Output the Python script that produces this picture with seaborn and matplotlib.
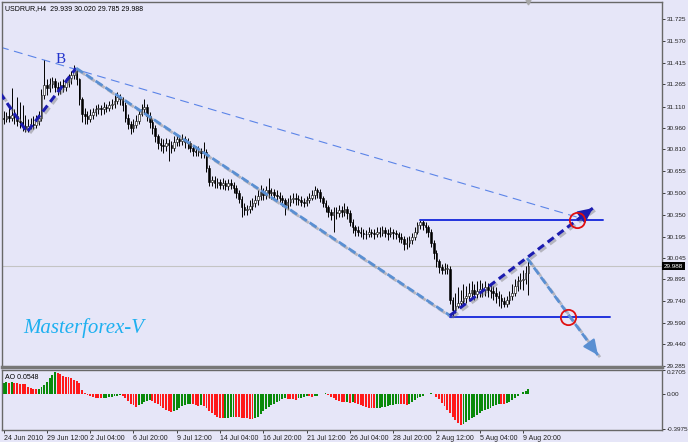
import matplotlib
matplotlib.use("Agg")
import numpy as np
import pandas as pd
import matplotlib.pyplot as plt
import matplotlib.patheffects as pe
import seaborn as sns

# ---- data ----
symbol = "USDRUR,H4"
header_values = [29.939, 30.020, 29.785, 29.988]
first_open = 31.03

closes = [
    31.02, 31.04, 31.03, 31.05, 31.04, 31.01, 31.00, 30.97, 30.95, 30.97,
    30.99, 30.98, 31.01, 31.03, 31.19, 31.26, 31.24, 31.27, 31.29, 31.25,
    31.23, 31.26, 31.25, 31.28, 31.31, 31.33, 31.36, 31.30, 31.16, 31.06,
    31.04, 31.02, 31.05, 31.07, 31.09, 31.10, 31.09, 31.11, 31.10, 31.12,
    31.13, 31.15, 31.18, 31.16, 31.12, 31.03, 30.99, 30.96, 30.98, 31.01,
    31.06, 31.09, 31.11, 31.04, 31.00, 30.96, 30.90, 30.85, 30.84, 30.83,
    30.85, 30.84, 30.82, 30.86, 30.88, 30.87, 30.88, 30.86, 30.85, 30.82,
    30.80, 30.79, 30.80, 30.78, 30.79, 30.68, 30.58, 30.59, 30.57, 30.58,
    30.56, 30.57, 30.55, 30.57, 30.56, 30.54, 30.50, 30.46, 30.40, 30.38,
    30.39, 30.41, 30.43, 30.45, 30.48, 30.51, 30.49, 30.52, 30.50, 30.51,
    30.49, 30.48, 30.47, 30.45, 30.42, 30.44, 30.46, 30.47, 30.46, 30.45,
    30.44, 30.43, 30.45, 30.47, 30.49, 30.52, 30.51, 30.47, 30.43, 30.40,
    30.37, 30.35, 30.37, 30.36, 30.38, 30.37, 30.39, 30.36, 30.30, 30.26,
    30.24, 30.23, 30.22, 30.21, 30.21, 30.23, 30.22, 30.21, 30.23, 30.22,
    30.24, 30.22, 30.21, 30.23, 30.22, 30.21, 30.19, 30.18, 30.14, 30.15,
    30.17, 30.19, 30.23, 30.28, 30.30, 30.28, 30.26, 30.23, 30.15, 30.08,
    30.02, 29.98, 29.96, 29.97, 29.97, 29.75, 29.68, 29.71, 29.73, 29.74,
    29.76, 29.78, 29.80, 29.82, 29.79, 29.81, 29.83, 29.82, 29.84, 29.82,
    29.81, 29.80, 29.78, 29.76, 29.74, 29.72, 29.75, 29.78, 29.80, 29.85,
    29.88, 29.89, 29.90, 29.939, 29.988,
]
highs = [
    31.08, 31.07, 31.10, 31.24, 31.09, 31.18, 31.14, 31.12, 31.05, 31.02,
    31.03, 31.04, 31.05, 31.08, 31.23, 31.44, 31.30, 31.31, 31.32, 31.31,
    31.28, 31.29, 31.30, 31.31, 31.34, 31.36, 31.40, 31.38, 31.31, 31.18,
    31.10, 31.08, 31.09, 31.10, 31.12, 31.13, 31.12, 31.14, 31.13, 31.15,
    31.16, 31.19, 31.21, 31.20, 31.18, 31.14, 31.06, 31.01, 31.02, 31.05,
    31.09, 31.13, 31.16, 31.13, 31.07, 31.02, 30.98, 30.92, 30.89, 30.88,
    30.89, 30.88, 30.87, 30.90, 30.92, 30.91, 30.92, 30.90, 30.89, 30.87,
    30.84, 30.83, 30.83, 30.82, 30.86, 30.81, 30.70, 30.62, 30.62, 30.61,
    30.60, 30.61, 30.59, 30.60, 30.60, 30.58, 30.56, 30.52, 30.48, 30.43,
    30.42, 30.45, 30.47, 30.49, 30.52, 30.56, 30.54, 30.55, 30.61, 30.54,
    30.53, 30.52, 30.51, 30.49, 30.47, 30.47, 30.49, 30.50, 30.50, 30.49,
    30.48, 30.47, 30.48, 30.50, 30.52, 30.55, 30.54, 30.53, 30.48, 30.45,
    30.42, 30.39, 30.40, 30.40, 30.42, 30.41, 30.43, 30.41, 30.38, 30.32,
    30.28, 30.27, 30.26, 30.25, 30.24, 30.26, 30.25, 30.25, 30.26, 30.26,
    30.27, 30.26, 30.25, 30.26, 30.25, 30.24, 30.23, 30.22, 30.20, 30.19,
    30.20, 30.22, 30.26, 30.30, 30.32, 30.31, 30.30, 30.28, 30.25, 30.17,
    30.10, 30.04, 30.00, 30.01, 30.00, 29.99, 29.77, 29.80, 29.84, 29.82,
    29.86, 29.85, 29.87, 29.88, 29.86, 29.88, 29.89, 29.87, 29.88, 29.87,
    29.86, 29.85, 29.84, 29.81, 29.79, 29.77, 29.78, 29.81, 29.86, 29.90,
    29.92, 29.94, 29.96, 29.99, 30.02,
]
lows = [
    30.99, 31.00, 31.00, 31.01, 30.99, 30.97, 30.96, 30.94, 30.93, 30.93,
    30.95, 30.95, 30.96, 30.98, 31.01, 31.16, 31.19, 31.21, 31.24, 31.21,
    31.19, 31.20, 31.21, 31.22, 31.25, 31.27, 31.30, 31.26, 31.12, 31.00,
    30.99, 30.99, 31.00, 31.02, 31.04, 31.06, 31.05, 31.06, 31.07, 31.08,
    31.09, 31.10, 31.13, 31.12, 31.08, 31.00, 30.95, 30.92, 30.93, 30.96,
    30.99, 31.04, 31.06, 31.01, 30.96, 30.92, 30.86, 30.81, 30.80, 30.78,
    30.80, 30.73, 30.78, 30.80, 30.83, 30.83, 30.84, 30.82, 30.81, 30.79,
    30.76, 30.76, 30.76, 30.75, 30.75, 30.65, 30.55, 30.55, 30.54, 30.54,
    30.53, 30.53, 30.52, 30.52, 30.53, 30.50, 30.47, 30.43, 30.33, 30.35,
    30.35, 30.36, 30.38, 30.40, 30.42, 30.45, 30.45, 30.46, 30.47, 30.46,
    30.45, 30.45, 30.44, 30.41, 30.35, 30.39, 30.41, 30.43, 30.42, 30.42,
    30.41, 30.40, 30.41, 30.43, 30.45, 30.46, 30.47, 30.44, 30.40, 30.37,
    30.33, 30.31, 30.23, 30.32, 30.33, 30.33, 30.34, 30.32, 30.27, 30.22,
    30.20, 30.20, 30.19, 30.18, 30.18, 30.19, 30.19, 30.18, 30.19, 30.19,
    30.20, 30.19, 30.17, 30.19, 30.18, 30.18, 30.16, 30.15, 30.10, 30.11,
    30.12, 30.14, 30.17, 30.21, 30.25, 30.24, 30.22, 30.19, 30.12, 30.04,
    29.98, 29.94, 29.93, 29.93, 29.93, 29.72, 29.64, 29.66, 29.69, 29.70,
    29.71, 29.73, 29.74, 29.76, 29.75, 29.76, 29.77, 29.77, 29.78, 29.77,
    29.76, 29.75, 29.73, 29.71, 29.69, 29.70, 29.70, 29.72, 29.75, 29.78,
    29.81, 29.83, 29.82, 29.86, 29.785,
]
ao_values = [
    0.13, 0.14, 0.13, 0.14, 0.13,
    0.13, 0.12, 0.12, 0.11,
    0.08, 0.065, 0.06, 0.055, 0.06,
    0.08, 0.10,
    0.14, 0.18, 0.22, 0.25,
    0.245, 0.23, 0.21, 0.20, 0.19, 0.18, 0.16, 0.15, 0.13,
    0.05, 0.01, -0.01,
    -0.02, -0.03, -0.04, -0.045, -0.05,
    -0.045, -0.04, -0.035, -0.03, -0.025, -0.02, -0.01,
    -0.02, -0.05, -0.08, -0.11, -0.13, -0.145,
    -0.13, -0.11, -0.09, -0.075, -0.07,
    -0.08, -0.10, -0.12, -0.14, -0.16, -0.18, -0.20, -0.21,
    -0.20, -0.18, -0.16, -0.14, -0.13, -0.12, -0.11,
    -0.12, -0.13, -0.135, -0.13, -0.14,
    -0.16, -0.19, -0.22, -0.24, -0.26, -0.275, -0.28,
    -0.275, -0.27, -0.265, -0.26, -0.262,
    -0.265, -0.27, -0.275, -0.28, -0.285, -0.29,
    -0.28, -0.26, -0.23, -0.20, -0.17, -0.15, -0.13, -0.11, -0.09, -0.075, -0.06, -0.05,
    -0.055, -0.06, -0.062, -0.065,
    -0.05, -0.04, -0.03, -0.02,
    -0.025, -0.03, -0.025, -0.02,
    -0.005, 0.005, 0.015,
    -0.01, -0.03, -0.05, -0.07, -0.085, -0.09, -0.095,
    -0.09, -0.10, -0.095, -0.10,
    -0.12, -0.13, -0.14, -0.15, -0.155, -0.16, -0.165,
    -0.16, -0.155, -0.15, -0.145, -0.14, -0.13, -0.125, -0.12, -0.11,
    -0.115, -0.12, -0.125,
    -0.11, -0.09, -0.07, -0.05, -0.035, -0.02, -0.005,
    0.005, 0.01,
    -0.005, -0.03, -0.06, -0.10, -0.14, -0.18, -0.22, -0.26, -0.30, -0.33, -0.355,
    -0.345, -0.32, -0.30, -0.28, -0.26, -0.24, -0.22, -0.20, -0.185, -0.17, -0.155, -0.14, -0.125, -0.11,
    -0.115, -0.12,
    -0.10, -0.09, -0.07, -0.045,
    -0.02, 0.0, 0.02, 0.035, 0.0548,
]

date_ticks = [0, 16, 32, 48, 64, 80, 96, 112, 128, 144, 160, 176, 192]
date_labels = ["24 Jun 2010", "29 Jun 12:00", "2 Jul 04:00", "6 Jul 20:00",
               "9 Jul 12:00", "14 Jul 04:00", "16 Jul 20:00", "21 Jul 12:00",
               "26 Jul 04:00", "28 Jul 20:00", "2 Aug 12:00", "5 Aug 04:00",
               "9 Aug 20:00"]
price_ticks = [31.725, 31.570, 31.415, 31.265, 31.110, 30.960, 30.810, 30.655,
               30.500, 30.350, 30.195, 30.045, 29.895, 29.740, 29.590, 29.440,
               29.285]
ao_ticks = [0.2705, 0.0, -0.3975]
last_price = 29.988

# analysis drawings (bar index, price)
zigzag_k = [-1.3, 8.65, 26.8]
zigzag_p = [31.205, 30.93, 31.38]
trend_k = [26.8, 165.0]
trend_p = [31.38, 29.64]
up_arrow_k = [165.0, 217.9]
up_arrow_p = [29.64, 30.396]
down_arrow_k = [193.5, 219.7]
down_arrow_p = [30.044, 29.362]
channel_k = [-1.3, 213.1]
channel_p = [31.528, 30.326]
resist_k = [154.0, 221.6]
resist_p = 30.312
support_k = [165.0, 224.2]
support_p = 29.63
target_k = [212.0, 208.6]
target_p = [30.312, 29.63]
b_label = (21.2, 31.44)

BG = "#e6e6f8"
NAVY = "#1c1cb0"
STEEL = "#5a8fd2"

sns.set_theme(style="white")
plt.rcParams["font.family"] = ["Liberation Sans", "DejaVu Sans"]

df = pd.DataFrame({"close": closes, "high": highs, "low": lows})
df["open"] = [first_open] + closes[:-1]
df["bar"] = np.arange(len(df))
ao_df = pd.DataFrame({"bar": np.arange(len(ao_values)), "ao": ao_values})
ao_df["trend"] = np.where(ao_df["ao"].diff().fillna(1) > 0, "up", "down")

fig = plt.figure(figsize=(6.88, 4.42), dpi=100, facecolor=BG)
ax = fig.add_axes([2 / 688, 1 - 367 / 442, 660 / 688, 365 / 442], facecolor=BG)
ax2 = fig.add_axes([2 / 688, 1 - 430 / 442, 660 / 688, 60 / 442], facecolor=BG)

# candles
body_lo = df[["open", "close"]].min(axis=1)
body_hi = df[["open", "close"]].max(axis=1)
ax.vlines(df["bar"], np.minimum(df["low"], body_lo), np.maximum(df["high"], body_hi),
          color="black", lw=0.7, zorder=3)
up = df["close"] >= df["open"]
ax.bar(df["bar"], (body_hi - body_lo).clip(lower=0.004), bottom=body_lo, width=0.6,
       color=np.where(up, "white", "black"), edgecolor="black", linewidth=0.4, zorder=4)

ax.axhline(last_price, color="#c4c4c4", lw=0.8, zorder=1)

shadow = [pe.SimpleLineShadow(offset=(1.5, -1.5), shadow_color="#7a7a7a", alpha=0.45), pe.Normal()]

ax.plot(channel_k, channel_p, color="#5b84e8", lw=0.8, dashes=(8, 5), zorder=2)
ax.plot(zigzag_k, zigzag_p, color=NAVY, lw=2.2, dashes=(2.5, 1.5), path_effects=shadow, zorder=5)
ax.plot(trend_k, trend_p, color=STEEL, lw=2.0, dashes=(3, 1.2), path_effects=shadow, zorder=5)
ax.plot(resist_k, [resist_p, resist_p], color="#2233dd", lw=1.4, zorder=5)
ax.plot(support_k, [support_p, support_p], color="#2233dd", lw=1.4, zorder=5)
ax.plot(up_arrow_k, up_arrow_p, color=NAVY, lw=2.2, dashes=(2.5, 1.5), path_effects=shadow, zorder=6)
ax.plot(down_arrow_k, down_arrow_p, color=STEEL, lw=2.0, dashes=(3, 1.2), path_effects=shadow, zorder=6)

for ks, ps, col in [(up_arrow_k, up_arrow_p, NAVY), (down_arrow_k, down_arrow_p, STEEL)]:
    k_from = ks[0] + 0.9 * (ks[1] - ks[0])
    p_from = ps[0] + 0.9 * (ps[1] - ps[0])
    ax.annotate("", xy=(ks[1], ps[1]), xytext=(k_from, p_from),
                arrowprops=dict(arrowstyle="-|>,head_length=0.75,head_width=0.35",
                                color=col, lw=1.5, shrinkA=0, shrinkB=0), zorder=7)

ax.plot(target_k, target_p, ls="none", marker="o", ms=11, mfc="none",
        mec="#e01010", mew=1.3, zorder=8)

ax.text(b_label[0], b_label[1], "B", color="#2233cc", fontsize=11,
        family=["Liberation Serif", "DejaVu Serif"], ha="center", va="center")
fig.text(84 / 688, 1 - 328 / 442, "Masterforex-V", color="#1eb0f0", fontsize=15,
         style="italic", family=["Liberation Serif", "DejaVu Serif"], ha="center", va="center")
ax.text(0.005, 0.992, f"{symbol}  " + " ".join(f"{v:.3f}" for v in header_values),
        transform=ax.transAxes, fontsize=5, va="top", ha="left", color="black")

ax.set_xlim(-0.6, 243.4)
ax.set_ylim(29.278, 31.845)
ax.plot(194, 31.845, marker="v", ms=3.5, color="#a8a8a8", clip_on=False, zorder=9)
ax.yaxis.tick_right()
ax.set_yticks(price_ticks)
ax.set_yticklabels([f"{v:.3f}" for v in price_ticks])
ax.set_xticks([])
ax.tick_params(axis="y", length=2, width=0.6, pad=1.5, labelsize=4.6, colors="#222222",
               right=True, left=False)
ax.text(1.003, last_price, f"{last_price:.3f}", transform=ax.get_yaxis_transform(),
        ha="left", va="center", fontsize=4.6, color="white",
        bbox=dict(boxstyle="square,pad=0.25", fc="black", ec="none"))

# Awesome Oscillator
sns.barplot(data=ao_df, x="bar", y="ao", hue="trend",
            palette={"up": "#0a8a0a", "down": "#ff1a1a"}, native_scale=True,
            dodge=False, width=0.7, saturation=1, legend=False, linewidth=0, ax=ax2)
ax2.set_xlim(-0.6, 243.4)
ax2.set_ylim(-0.412, 0.275)
ax2.set_xlabel("")
ax2.set_ylabel("")
ax2.yaxis.tick_right()
ax2.set_yticks(ao_ticks)
ax2.set_yticklabels(["0.2705", "0.00", "-0.3975"])
ax2.get_yticklabels()[0].set_va("top")
ax2.tick_params(axis="y", length=2, width=0.6, pad=1.5, labelsize=4.6, colors="#222222",
                right=True, left=False)
ax2.set_xticks(date_ticks)
ax2.set_xticklabels(date_labels)
for lbl in ax2.get_xticklabels():
    lbl.set_ha("left")
ax2.tick_params(axis="x", length=2.5, width=0.6, pad=1, labelsize=5, colors="#222222",
                bottom=True)
ax2.text(0.005, 0.93, f"AO {ao_values[-1]:.4f}", transform=ax2.transAxes,
         fontsize=5, va="top", ha="left", color="black")

for a in (ax, ax2):
    for s in a.spines.values():
        s.set_color("#686868")
        s.set_linewidth(1.0)
ax.spines["bottom"].set_linewidth(2.5)
ax.spines["bottom"].set_color("#777777")

fig.savefig("out.png", dpi=100, facecolor=BG)
